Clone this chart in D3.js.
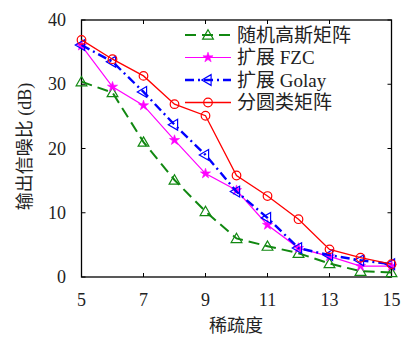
<!DOCTYPE html>
<html>
<head>
<meta charset="utf-8">
<script src="https://cdn.jsdelivr.net/npm/d3@7"></script>
<style>
  body { margin: 0; background: #fff; }
  svg text { font-family: "Liberation Serif", "Noto Sans CJK SC", serif; fill: #222; }
</style>
</head>
<body>
<svg id="chart" width="403" height="340"></svg>
<script>
const sparsity = [5, 6, 7, 8, 9, 10, 11, 12, 13, 14, 15];
const gaussian = [30.4, 28.7, 21.0, 15.1, 10.2, 6.0, 4.8, 3.7, 2.1, 0.9, 0.7];
const fzc      = [36.0, 29.6, 26.7, 21.3, 16.1, 13.5, 8.1, 4.5, 3.2, 1.7, 1.7];
const golay    = [36.1, 33.5, 28.8, 23.7, 19.0, 13.3, 9.2, 4.5, 3.4, 2.6, 2.0];
const cyclo    = [36.9, 33.9, 31.3, 26.9, 25.1, 15.8, 12.6, 9.0, 4.3, 3.0, 2.0];
const xTicks = [5, 7, 9, 11, 13, 15];
const yTicks = [0, 10, 20, 30, 40];

const series = [
    { name: '随机高斯矩阵', values: gaussian, color: '#118811', dash: '11,6', width: 2, marker: 'triUp' },
    { name: '扩展 FZC', values: fzc, color: '#ff00ff', dash: null, width: 1.2, marker: 'star' },
    { name: '扩展 Golay', values: golay, color: '#0000ff', dash: '9,4,2,4', width: 2.4, marker: 'triLeft' },
    { name: '分圆类矩阵', values: cyclo, color: '#ff0000', dash: null, width: 1.3, marker: 'circle' }
];

const svg = d3.select('#chart');
const box = { left: 81.5, right: 391.5, top: 20, bottom: 277 };

const x = d3.scaleLinear().domain([5, 15]).range([box.left, box.right]);
const y = d3.scaleLinear().domain([0, 40]).range([box.bottom, box.top]);

// frame
svg.append('rect')
    .attr('x', box.left).attr('y', box.top)
    .attr('width', box.right - box.left).attr('height', box.bottom - box.top)
    .attr('fill', 'none').attr('stroke', '#000').attr('stroke-width', 1.3);

// inward ticks on all sides
const tickLen = 4;
const tickG = svg.append('g').attr('stroke', '#000').attr('stroke-width', 1);
xTicks.forEach(t => {
    tickG.append('line').attr('x1', x(t)).attr('x2', x(t)).attr('y1', box.bottom).attr('y2', box.bottom - tickLen);
    tickG.append('line').attr('x1', x(t)).attr('x2', x(t)).attr('y1', box.top).attr('y2', box.top + tickLen);
});
yTicks.forEach(t => {
    tickG.append('line').attr('x1', box.left).attr('x2', box.left + tickLen).attr('y1', y(t)).attr('y2', y(t));
    tickG.append('line').attr('x1', box.right).attr('x2', box.right - tickLen).attr('y1', y(t)).attr('y2', y(t));
});

// tick labels
svg.append('g').selectAll('text')
    .data(xTicks).enter().append('text')
    .attr('x', d => x(d)).attr('y', 306)
    .attr('text-anchor', 'middle').attr('font-size', '18px')
    .text(d => d);

svg.append('g').selectAll('text')
    .data(yTicks).enter().append('text')
    .attr('x', 66).attr('y', d => y(d) + 6)
    .attr('text-anchor', 'end').attr('font-size', '18px')
    .text(d => d);

// axis titles
svg.append('text')
    .attr('x', 236).attr('y', 332)
    .attr('text-anchor', 'middle').attr('font-size', '18px')
    .text('稀疏度');

svg.append('text')
    .attr('transform', `translate(31, ${(box.top + box.bottom) / 2 - 2}) rotate(-90)`)
    .attr('text-anchor', 'middle').attr('font-size', '18px')
    .text('输出信噪比 (dB)');

function drawMarker(g, type, color, cx, cy) {
    if (type === 'circle') {
        g.append('circle').attr('cx', cx).attr('cy', cy).attr('r', 4.3)
            .attr('fill', 'none').attr('stroke', color).attr('stroke-width', 1.2);
    } else if (type === 'triUp') {
        g.append('path').attr('d', d3.symbol().type(d3.symbolTriangle).size(50)())
            .attr('transform', `translate(${cx},${cy + 1})`)
            .attr('fill', 'none').attr('stroke', color).attr('stroke-width', 1.2);
    } else if (type === 'triLeft') {
        g.append('path').attr('d', d3.symbol().type(d3.symbolTriangle).size(50)())
            .attr('transform', `translate(${cx},${cy}) rotate(-90)`)
            .attr('fill', 'none').attr('stroke', color).attr('stroke-width', 1.2);
    } else if (type === 'star') {
        g.append('path').attr('d', d3.symbol().type(d3.symbolStar).size(32)())
            .attr('transform', `translate(${cx},${cy})`)
            .attr('fill', color).attr('stroke', color).attr('stroke-width', 0.6);
    }
}

const line = d3.line().x((d, i) => x(sparsity[i])).y(d => y(d));

const plot = svg.append('g');
series.forEach(s => {
    const g = plot.append('g');
    g.append('path')
        .attr('d', line(s.values))
        .attr('fill', 'none')
        .attr('stroke', s.color)
        .attr('stroke-width', s.width)
        .attr('stroke-dasharray', s.dash);
    s.values.forEach((v, i) => drawMarker(g, s.marker, s.color, x(sparsity[i]), y(v)));
});

// legend
const legend = svg.append('g');
series.forEach((s, i) => {
    const ly = 35 + i * 22.5;
    legend.append('line')
        .attr('x1', 185).attr('x2', 231).attr('y1', ly).attr('y2', ly)
        .attr('stroke', s.color).attr('stroke-width', s.width)
        .attr('stroke-dasharray', s.dash);
    drawMarker(legend, s.marker, s.color, 208, ly);
    legend.append('text')
        .attr('x', 237).attr('y', ly + 6.5)
        .attr('font-size', '19px')
        .text(s.name);
});
</script>
</body>
</html>
